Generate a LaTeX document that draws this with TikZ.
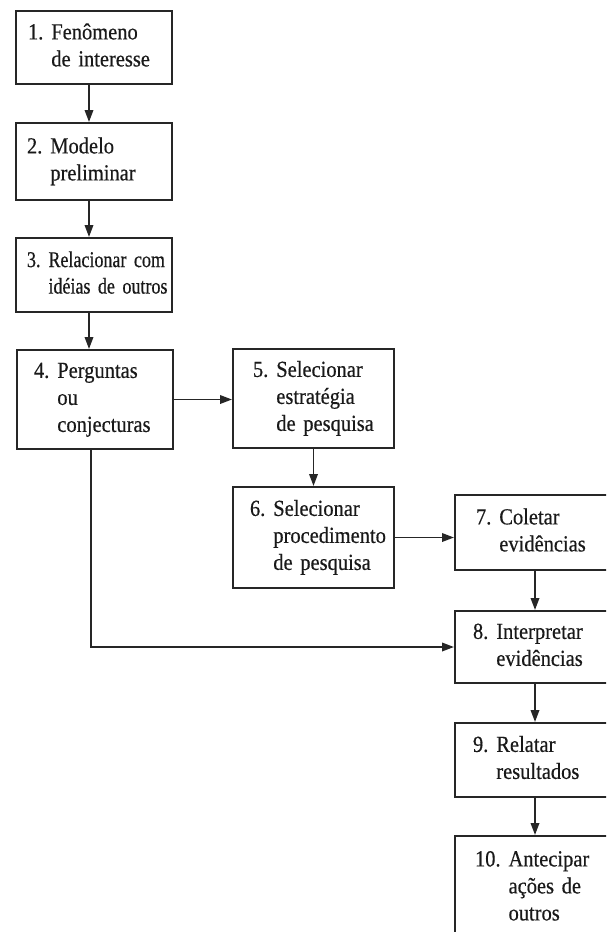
\documentclass[tikz,border=0pt]{standalone}
\usepackage{fontspec}
\setmainfont{Liberation Serif}
% tall, slightly narrow and heavy serif for the step labels
\newfontfamily\stepfont{Liberation Serif}[FakeStretch=0.89,
  BoldFont=Liberation Serif, BoldFeatures={FakeBold=0.45}]
\newfontfamily\narrowstepfont{Liberation Serif}[FakeStretch=0.80,
  BoldFont=Liberation Serif, BoldFeatures={FakeBold=0.45}]
\usetikzlibrary{arrows.meta}

% numbered step text: number in the first column, wrapped lines aligned after it
\newcommand\stepcell[1]{\begin{tabular}[c]{@{}l@{\hspace{8pt}}l@{}}#1\end{tabular}}

\begin{document}
\begin{tikzpicture}[x=1pt,y=-1pt,
  stepbox/.style={draw=black!85, line width=2pt, text=black!90,
    inner xsep=0pt, inner ysep=0pt, align=left,
    font=\stepfont\bfseries\fontsize{23}{27}\selectfont},
  smallstep/.style={font=\narrowstepfont\bfseries\fontsize{22.5}{26.5}\selectfont},
  arr/.style={draw=black!85, line width=1.9pt,
    -{Triangle[length=12pt,width=8.5pt]}}]

\useasboundingbox (0,0) rectangle (606,932);
\fill[white] (0,0) rectangle (606,932);
\clip (0,0) rectangle (606,932);

% left column
\node[stepbox, text width=156pt, minimum height=73pt] (b1) at (94,47.5)
  {\hspace*{12pt}\stepcell{1. & Fenômeno\\ & de interesse}};
\node[stepbox, text width=156pt, minimum height=77pt] (b2) at (94,161.5)
  {\hspace*{11pt}\stepcell{2. & Modelo\\ & preliminar}};
\node[stepbox, smallstep, text width=156pt, minimum height=74pt] (b3) at (94,275)
  {\hspace*{11pt}\stepcell{3. & Relacionar com\\ & idéias de outros}};
\node[stepbox, text width=156pt, minimum height=99pt] (b4) at (95,399.5)
  {\hspace*{17pt}\stepcell{4. & Perguntas\\ & ou\\ & conjecturas}};

% middle column
\node[stepbox, text width=161pt, minimum height=99pt] (b5) at (313.5,398.5)
  {\hspace*{20pt}\stepcell{5. & Selecionar\\ & estratégia\\ & de pesquisa}};
\node[stepbox, text width=161pt, minimum height=101pt] (b6) at (313.5,537.5)
  {\hspace*{17pt}\stepcell{6. & Selecionar\\ & procedimento\\ & de pesquisa}};

% right column
\node[stepbox, text width=160pt, minimum height=75pt] (b7) at (535,532.5)
  {\hspace*{21pt}\stepcell{7. & Coletar\\ & evidências}};
\node[stepbox, text width=160pt, minimum height=72pt] (b8) at (535,647)
  {\hspace*{18pt}\stepcell{8. & Interpretar\\ & evidências}};
\node[stepbox, text width=160pt, minimum height=74pt] (b9) at (535,760)
  {\hspace*{18pt}\stepcell{9. & Relatar\\ & resultados}};
\node[stepbox, text width=160pt, minimum height=104pt] (b10) at (535,888)
  {\hspace*{20pt}\stepcell{10. & Antecipar\\ & ações de\\ & outros}};

% connectors
\coordinate (lx) at (89,0);
\coordinate (dx) at (91,0);
\draw[arr] (b1.south -| lx) -- (b2.north -| lx);
\draw[arr] (b2.south -| lx) -- (b3.north -| lx);
\draw[arr] (b3.south -| lx) -- (b4.north -| lx);
\draw[arr] (b4.east) -- (b4.east -| b5.west);
\draw[arr] (b5.south) -- (b6.north);
\draw[arr] (b6.east) -- (b6.east -| b7.west);
\draw[arr] (b7.south) -- (b8.north);
\draw[arr] (b8.south) -- (b9.north);
\draw[arr] (b9.south) -- (b10.north);
\draw[arr] (b4.south -| dx) |- (b8.west);

\end{tikzpicture}
\end{document}
